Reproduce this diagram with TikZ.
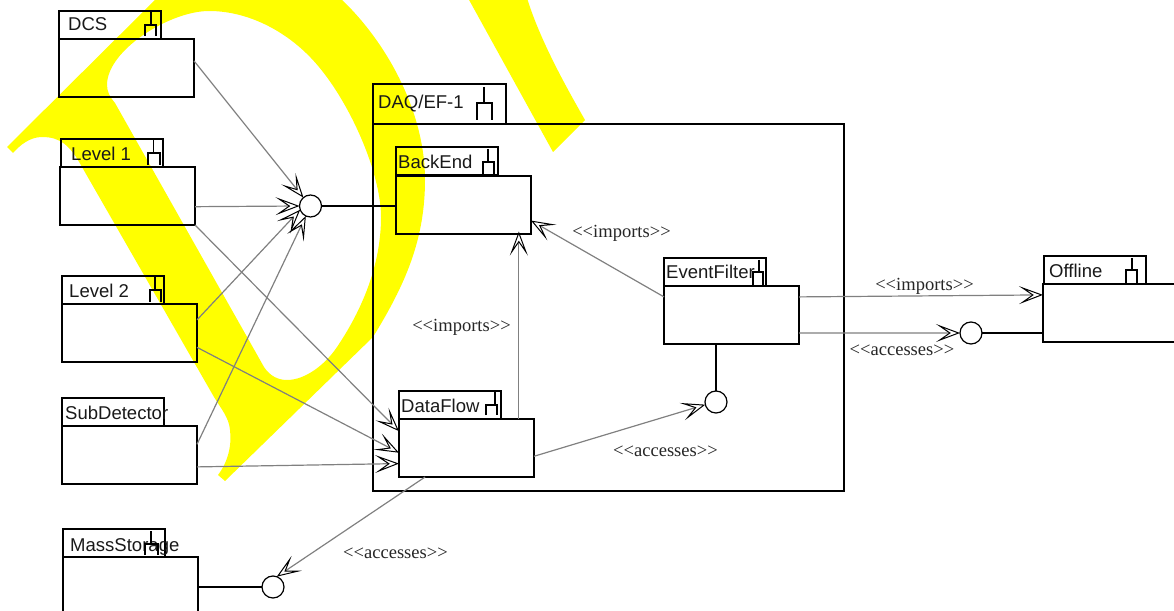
\documentclass[tikz,border=0pt]{standalone}
\usepackage{fontspec}
\newfontfamily\pkgfont{Liberation Sans}
\newfontfamily\tagfont{Liberation Serif}
\usetikzlibrary{arrows.meta}
\definecolor{markyellow}{RGB}{255,255,0}
\tikzset{
  pkgbody/.style={draw=black, line width=1.6bp, minimum width=135bp, minimum height=58bp, inner sep=0pt, outer sep=0pt, anchor=north west},
  pkgtab/.style={pkgbody, minimum width=102bp, minimum height=28bp},
  pkgname/.style={inner sep=0pt, anchor=base west, text=black!90, font=\pkgfont\fontsize{18.6}{20}\selectfont},
  pkgicon/.style={black, line width=1.4bp},
  tagtext/.style={inner sep=0pt, text=black!85, font=\tagfont\fontsize{18.6}{20}\selectfont},
  iface/.style={draw=black, circle, line width=1.2bp, minimum size=22bp, inner sep=0pt, outer sep=0pt},
  wire/.style={black, line width=1.6bp},
  dep/.style={black!50, line width=1.2bp, -{Stealth[open, length=24bp, width=18bp, inset=13bp, black, line width=1bp]}}
}
\begin{document}
\begin{tikzpicture}[x=1bp,y=-1bp]
\useasboundingbox (0,0) rectangle (1174,611);
\clip (0,0) rectangle (1174,611);
% watermark
\fill[markyellow, even odd rule] (7,147) -- (157,-2) -- (340,-2) .. controls (385,40) and (425,110) .. (425,180) .. controls (425,240) and (405,285) .. (373,337) -- (225,481) -- (218,475) .. controls (228,462) and (232,445) .. (230,430) .. controls (229,418) and (222,410) .. (214,397) -- (82,167) .. controls (70,145) and (60,137) .. (42,137) .. controls (30,137) and (20,145) .. (13,153) -- cycle
  (107,85) .. controls (107,92) and (110,97) .. (115,103) -- (264,367) .. controls (270,376) and (278,380) .. (287,380) .. controls (305,380) and (325,365) .. (337,347) .. controls (362,310) and (381,265) .. (381,217) .. controls (381,170) and (345,90) .. (306,53) .. controls (280,28) and (245,11) .. (209,11) .. controls (170,11) and (107,50) .. (107,85) -- cycle;
\fill[markyellow] (468,-2) -- (527,-2) .. controls (540,40) and (565,85) .. (585,120) -- (553,152) -- cycle;
% packages on the left
\node[pkgtab] (dcstab) at (59,11) {};
\node[pkgbody] (dcs) at (59,39) {};
\node[pkgname] (dcsname) at (68,30.5) {DCS};
\draw[pkgicon] (151,12) -- (151,25) (145,36) -- (145,25) -- (156,25) -- (156,36);
\node[pkgtab] (levelonetab) at (61,139) {};
\node[pkgbody] (levelone) at (60,167) {};
\node[pkgname] (levelonename) at (71,161) {Level 1};
\draw[pkgicon] (153.5,140) -- (153.5,153) (148,165) -- (148,153) -- (160,153) -- (160,165);
\node[pkgtab] (leveltwotab) at (62,276) {};
\node[pkgbody] (leveltwo) at (62,304) {};
\node[pkgname] (leveltwoname) at (69,298) {Level 2};
\draw[pkgicon] (155,277) -- (155,290) (150,302) -- (150,290) -- (161,290) -- (161,302);
\node[pkgtab] (subdettab) at (62,398) {};
\node[pkgbody] (subdet) at (62,426) {};
\node[pkgname] (subdetname) at (65,419) {SubDetector};
\node[pkgtab] (masstab) at (63,529) {};
\node[pkgbody] (mass) at (63,557) {};
\node[pkgname] (massname) at (70,551) {MassStorage};
\draw[pkgicon] (151,531) -- (151,544) (145,555) -- (145,544) -- (158,544) -- (158,555);
% DAQ package and its content
\node[pkgtab, minimum width=133bp, minimum height=40bp] (daqtab) at (373,84) {};
\node[pkgbody, minimum width=471bp, minimum height=367bp] (daq) at (373,124) {};
\node[pkgname] (daqname) at (378,109) {DAQ/EF-1};
\draw[pkgicon] (484,87) -- (484,103) (477,120) -- (477,103) -- (492,103) -- (492,120);
\node[pkgtab] (backendtab) at (396,147) {};
\node[pkgbody] (backend) at (396,176) {};
\node[pkgname] (backendname) at (398,169) {BackEnd};
\draw[pkgicon] (488,149) -- (488,162) (483,174) -- (483,162) -- (494,162) -- (494,174);
\node[pkgtab] (dataflowtab) at (399,391) {};
\node[pkgbody] (dataflow) at (399,419) {};
\node[pkgname] (dataflowname) at (401,412) {DataFlow};
\draw[pkgicon] (495,392) -- (495,405) (486,415) -- (486,405) -- (497,405) -- (497,415);
\node[pkgtab] (filtertab) at (664,258) {};
\node[pkgbody] (filter) at (664,286) {};
\node[pkgname] (filtername) at (666,279) {EventFilter};
\draw[pkgicon] (759,260) -- (759,272) (753,285) -- (753,272) -- (763,272) -- (763,285);
\node[pkgtab] (offlinetab) at (1044,256) {};
\node[pkgbody] (offline) at (1043,284) {};
\node[pkgname] (offlinename) at (1049,278) {Offline};
\draw[pkgicon] (1132,258) -- (1132,270) (1126,283) -- (1126,270) -- (1137,270) -- (1137,283);
% interfaces
\node[iface] (busport) at (310.5,206) {};
\node[iface] (filterport) at (716,402) {};
\node[iface] (offlineport) at (971,333) {};
\node[iface] (massport) at (273,587) {};
% solid wires
\draw[wire] (busport.east) -- (busport.east -| backend.west);
\draw[wire] (filterport.north) -- (filterport.north |- filter.south);
\draw[wire] (offlineport.east) -- (offlineport.east -| offline.west);
\draw[wire] (massport.west) -- (massport.west -| mass.east);
% dependencies
\draw[dep] (dcs.6) -- (busport.130);
\draw[dep] (levelone.-9) -- (busport.180);
\draw[dep] (leveltwo.11) -- (busport.200);
\draw[dep] (subdet.9) -- (busport.245);
\draw[dep] (levelone.south east) -- (dataflow.166);
\draw[dep] (leveltwo.-12) -- (dataflow.184);
\draw[dep] (subdet.-10) -- (dataflow.193);
\draw[dep] (dataflow.29) -- ([yshift=2.5bp]dataflow.29 |- backend.south);
\draw[dep] (filter.165) -- (backend.-13);
\draw[dep] (dataflow.-7) -- (filterport.194);
\draw[dep] (filter.15) -- (offline.165);
\draw[dep] (filter.-15) -- (offlineport.west);
\draw[dep] (dataflow.215) -- (massport.70);
% stereotypes
\node[tagtext] (importsback) at (621.5,233) {<<imports>>};
\node[tagtext] (importsflow) at (461.5,327) {<<imports>>};
\node[tagtext] (importsoff) at (924.5,286) {<<imports>>};
\node[tagtext] (accessoff) at (902,350) {<<accesses>>};
\node[tagtext] (accessfilter) at (665.5,451) {<<accesses>>};
\node[tagtext] (accessmass) at (395.5,553) {<<accesses>>};
\end{tikzpicture}
\end{document}
